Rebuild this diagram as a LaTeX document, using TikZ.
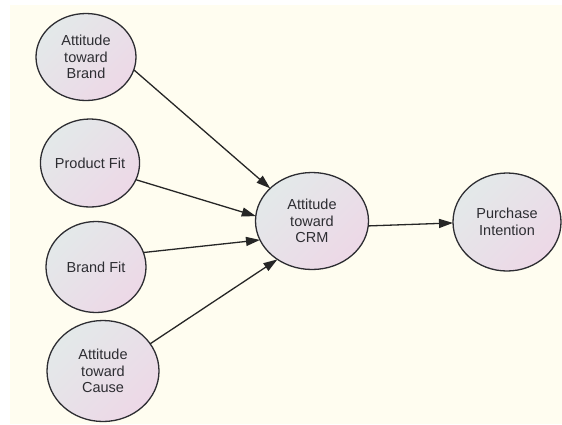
\documentclass[tikz,border=0pt]{standalone}
\usepackage{fontspec}
\setmainfont{Liberation Sans}
\usepackage{tikz}
\usetikzlibrary{arrows.meta, shapes.geometric}
\usepackage{tkz-berge}
\definecolor{PaperCream}{RGB}{255,253,240}
\definecolor{ShadeGrey}{RGB}{227,233,233}
\definecolor{ShadeLilac}{RGB}{229,220,236}
\definecolor{ShadePink}{RGB}{237,216,231}
\definecolor{InkGrey}{RGB}{45,45,50}

\begin{document}
\begin{tikzpicture}[x=1pt,y=-1pt]
    \useasboundingbox (0,0) rectangle (562,424);
    \fill[PaperCream] (10,5) rectangle (562,424);
    \tikzset{VertexStyle/.style={ellipse, draw=InkGrey, line width=1.3pt,
        top color=ShadeGrey, middle color=ShadeLilac, bottom color=ShadePink,
        shading angle=45, inner sep=0pt, outer sep=0pt, align=center,
        text=InkGrey, font=\fontsize{14.5}{16.5}\selectfont}}
    \tikzset{EdgeStyle/.style={draw=black!85, line width=1.3pt,
        -{Triangle[length=14pt,width=9pt]}}}
    %\GraphInit[vstyle=Normal]
    \Vertex[x=86,y=57,L={Attitude\\toward\\Brand},
        style={minimum width=100pt,minimum height=87pt}]{AB}
    \Vertex[x=90,y=163,L={Product Fit},
        style={minimum width=94pt,minimum height=88pt}]{PF}
    \Vertex[x=96,y=267,L={Brand Fit},
        style={minimum width=100pt,minimum height=91pt}]{BF}
    \Vertex[x=103,y=371,L={Attitude\\toward\\Cause},
        style={minimum width=112pt,minimum height=101pt}]{AC}
    \Vertex[x=312,y=221,L={Attitude\\toward\\CRM},
        style={minimum width=113pt,minimum height=97pt}]{CRM}
    \Vertex[x=507,y=222,L={Purchase\\Intention},
        style={minimum width=108pt,minimum height=98pt}]{PI}
    \Edge(AB.-15)(CRM.142)
    \Edge(PF.-20)(CRM.175)
    \Edge(BF.17)(CRM.200)
    \Edge(AC.30)(CRM.228)
    \Edge(CRM.-5)(PI.181)
\end{tikzpicture}
\end{document}
